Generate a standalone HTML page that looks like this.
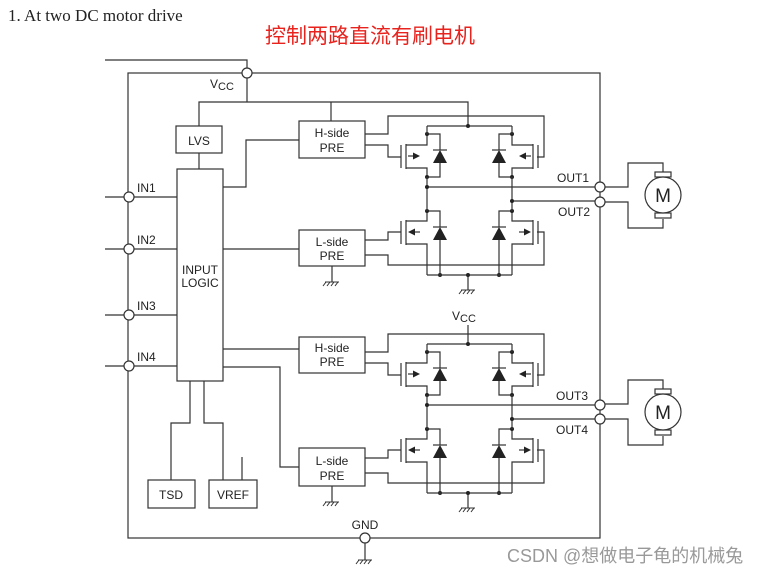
<!DOCTYPE html>
<html><head><meta charset="utf-8"><style>
html,body{margin:0;padding:0;background:#fff;}
svg{display:block;}
text{font-family:"Liberation Sans",Arial,sans-serif;fill:#222;}
</style></head><body>
<svg width="775" height="576" viewBox="0 0 775 576" xmlns="http://www.w3.org/2000/svg">
<defs>
<g id="gnd" stroke="#333" stroke-width="1" fill="none">
<line x1="-7" y1="0" x2="7" y2="0"/>
<line x1="-6" y1="0" x2="-9" y2="4"/><line x1="-2" y1="0" x2="-5" y2="4"/><line x1="2" y1="0" x2="-1" y2="4"/><line x1="6" y1="0" x2="3" y2="4"/>
</g>
<g id="fetH" stroke="#333" stroke-width="1.2" fill="none">
<line x1="401" y1="145" x2="401" y2="168"/>
<line x1="406" y1="144" x2="406" y2="169"/>
<polyline points="406,145 427,145 427,134"/>
<polyline points="406,168 427,168 427,177"/>
<line x1="408" y1="156" x2="414" y2="156"/>
<polygon points="420,156 413,152.5 413,159.5" fill="#222" stroke="none"/>
<polyline points="427,134 440,134 440,150"/>
<polyline points="440,163 440,177 427,177"/>
<polygon points="440,150 433,163 447,163" fill="#222" stroke="none"/>
<line x1="433" y1="150" x2="447" y2="150"/>
<circle cx="427" cy="134" r="2" fill="#222" stroke="none"/>
<circle cx="427" cy="177" r="2" fill="#222" stroke="none"/>
</g>
<g id="fetL" stroke="#333" stroke-width="1.2" fill="none">
<line x1="401" y1="221" x2="401" y2="244"/>
<line x1="406" y1="220" x2="406" y2="245"/>
<polyline points="406,221 427,221 427,211"/>
<polyline points="406,244 427,244 427,275"/>
<line x1="414" y1="232" x2="420" y2="232"/>
<polygon points="408,232 415,228.5 415,235.5" fill="#222" stroke="none"/>
<polyline points="427,211 440,211 440,227"/>
<polyline points="440,240 440,275"/>
<polygon points="440,227 433,240 447,240" fill="#222" stroke="none"/>
<line x1="433" y1="227" x2="447" y2="227"/>
<circle cx="427" cy="211" r="2" fill="#222" stroke="none"/>
<circle cx="440" cy="275" r="2" fill="#222" stroke="none"/>
</g>
<g id="bridge">
<use href="#fetH"/>
<use href="#fetH" transform="translate(939,0) scale(-1,1)"/>
<use href="#fetL"/>
<use href="#fetL" transform="translate(939,0) scale(-1,1)"/>
<g stroke="#333" stroke-width="1.2" fill="none">
<line x1="427" y1="126" x2="512" y2="126"/>
<line x1="427" y1="126" x2="427" y2="134"/>
<line x1="512" y1="126" x2="512" y2="134"/>
<line x1="427" y1="177" x2="427" y2="211"/>
<line x1="512" y1="177" x2="512" y2="211"/>
<polyline points="365,134 388,134 388,116 544,116 544,157 537,157"/>
<polyline points="365,145 388,145 388,157 401,157"/>
<polyline points="365,240 388,240 388,232 401,232"/>
<polyline points="365,255 388,255 388,265 544,265 544,232 537,232"/>
<line x1="427" y1="275" x2="512" y2="275"/>
<line x1="468" y1="275" x2="468" y2="290"/>
</g>
<circle cx="427" cy="187" r="2" fill="#222"/>
<circle cx="512" cy="201" r="2" fill="#222"/>
<circle cx="468" cy="126" r="2" fill="#222"/>
<circle cx="468" cy="275" r="2" fill="#222"/>
<use href="#gnd" transform="translate(468,290)"/>
</g>
<g id="motor" stroke="#333" stroke-width="1.2" fill="none">
<polyline points="605,187 628,187 628,163 663,163 663,172"/>
<polyline points="605,202 628,202 628,228 663,228 663,219"/>
<rect x="655" y="172" width="16" height="5" fill="#fff"/>
<rect x="655" y="213" width="16" height="5" fill="#fff"/>
<circle cx="663" cy="195" r="18" fill="#fff"/>
</g>
</defs>

<text x="8" y="21" style="font-family:'Liberation Serif',serif;font-size:17px">1. At two DC motor drive</text>
<text x="265" y="43" style="font-family:'Liberation Sans','Noto Sans CJK SC',sans-serif;font-size:21px;fill:#e8231e">控制两路直流有刷电机</text>

<g stroke="#333" stroke-width="1.2" fill="none">
<rect x="128" y="73" width="472" height="465"/>
<polyline points="105,60 247,60 247,68"/>
<line x1="247" y1="78" x2="247" y2="102"/>
<polyline points="199,126 199,102 468,102 468,126"/>
<line x1="331" y1="102" x2="331" y2="121"/>
<rect x="176" y="126" width="46" height="27"/>
<line x1="199" y1="153" x2="199" y2="169"/>
<rect x="177" y="169" width="46" height="212"/>
<rect x="299" y="121" width="66" height="37"/>
<rect x="299" y="230" width="66" height="36"/>
<rect x="299" y="337" width="66" height="36"/>
<rect x="299" y="448" width="66" height="38"/>
<polyline points="223,187 246,187 246,140 299,140"/>
<line x1="223" y1="249" x2="299" y2="249"/>
<line x1="223" y1="349" x2="299" y2="349"/>
<polyline points="223,367 280,367 280,467 299,467"/>
<line x1="105" y1="197" x2="177" y2="197"/>
<line x1="105" y1="249" x2="177" y2="249"/>
<line x1="105" y1="315" x2="177" y2="315"/>
<line x1="105" y1="366" x2="177" y2="366"/>
<polyline points="190,381 190,423 171,423 171,480"/>
<polyline points="204,381 204,423 223,423 223,480"/>
<line x1="242" y1="457" x2="242" y2="480"/>
<rect x="148" y="480" width="47" height="28"/>
<rect x="209" y="480" width="48" height="28"/>
<line x1="332" y1="266" x2="332" y2="282"/>
<line x1="332" y1="486" x2="332" y2="502"/>
<line x1="365" y1="543" x2="365" y2="560"/>
<line x1="468" y1="325" x2="468" y2="344"/>
<line x1="427" y1="187" x2="595" y2="187"/>
<line x1="512" y1="201" x2="595" y2="201"/>
<line x1="427" y1="405" x2="595" y2="405"/>
<line x1="512" y1="419" x2="595" y2="419"/>
</g>
<use href="#gnd" transform="translate(332,282)"/>
<use href="#gnd" transform="translate(332,502)"/>
<use href="#gnd" transform="translate(365,560)"/>

<use href="#bridge"/>
<use href="#bridge" transform="translate(0,218)"/>
<use href="#motor"/>
<use href="#motor" transform="translate(0,217)"/>

<g fill="#fff" stroke="#333" stroke-width="1.2">
<circle cx="247" cy="73" r="5"/>
<circle cx="129" cy="197" r="5"/>
<circle cx="129" cy="249" r="5"/>
<circle cx="129" cy="315" r="5"/>
<circle cx="129" cy="366" r="5"/>
<circle cx="365" cy="538" r="5"/>
<circle cx="600" cy="187" r="5"/>
<circle cx="600" cy="202" r="5"/>
<circle cx="600" cy="405" r="5"/>
<circle cx="600" cy="419" r="5"/>
</g>

<g style="font-size:12px">
<text x="210" y="88">V<tspan font-size="11" dy="2">CC</tspan></text>
<text x="452" y="320">V<tspan font-size="11" dy="2">CC</tspan></text>
<text x="199" y="145" text-anchor="middle">LVS</text>
<text x="200" y="274" text-anchor="middle">INPUT</text>
<text x="200" y="287" text-anchor="middle">LOGIC</text>
<text x="332" y="137" text-anchor="middle">H-side</text>
<text x="332" y="152" text-anchor="middle">PRE</text>
<text x="332" y="246" text-anchor="middle">L-side</text>
<text x="332" y="260" text-anchor="middle">PRE</text>
<text x="332" y="352" text-anchor="middle">H-side</text>
<text x="332" y="366" text-anchor="middle">PRE</text>
<text x="332" y="465" text-anchor="middle">L-side</text>
<text x="332" y="480" text-anchor="middle">PRE</text>
<text x="171" y="499" text-anchor="middle">TSD</text>
<text x="233" y="499" text-anchor="middle">VREF</text>
<text x="365" y="529" text-anchor="middle">GND</text>
<text x="137" y="192">IN1</text>
<text x="137" y="244">IN2</text>
<text x="137" y="310">IN3</text>
<text x="137" y="361">IN4</text>
<text x="557" y="182">OUT1</text>
<text x="558" y="216">OUT2</text>
<text x="556" y="400">OUT3</text>
<text x="556" y="434">OUT4</text>
<text x="663" y="202" text-anchor="middle" style="font-size:19px">M</text>
<text x="663" y="419" text-anchor="middle" style="font-size:19px">M</text>
</g>
<text x="507" y="562" style="font-family:'Liberation Sans','Noto Sans CJK SC',sans-serif;font-size:18px;fill:#999">CSDN @想做电子龟的机械兔</text>
</svg>
</body></html>
